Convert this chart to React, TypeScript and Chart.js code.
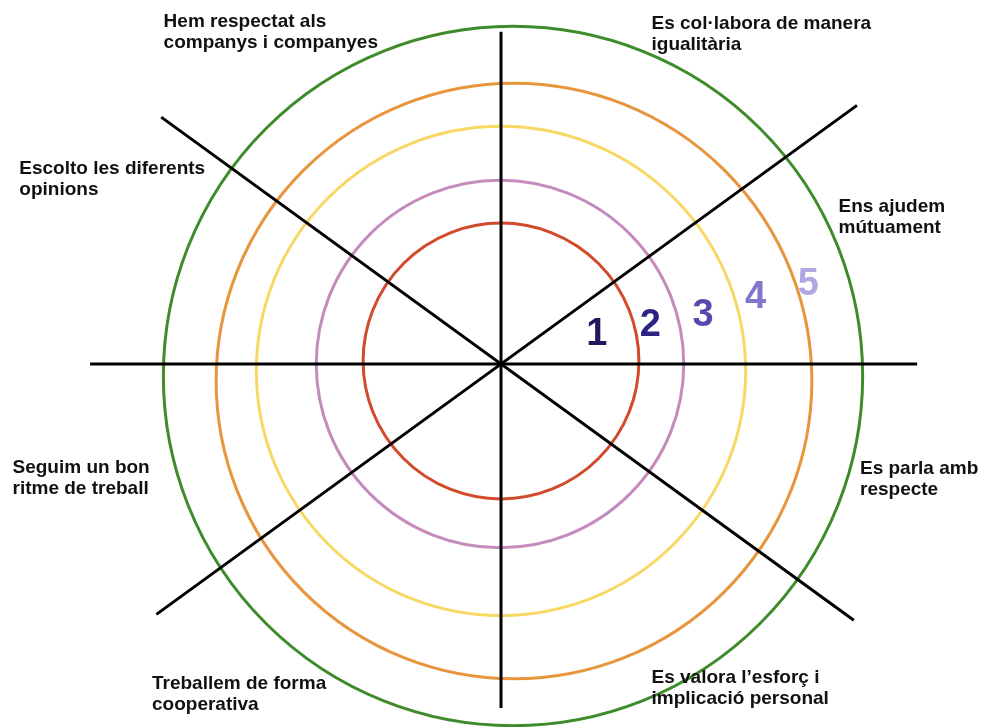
import React, { useEffect, useRef } from 'react';
import { Chart, registerables } from 'chart.js';

Chart.register(...registerables);

// ---------------- DATA ----------------
// Sector statements, clockwise starting from the top-right sector
const categories: string[][] = [
  ['Es col·labora de manera', 'igualitària'],
  ['Ens ajudem', 'mútuament'],
  ['Es parla amb', 'respecte'],
  ['Es valora l’esforç i', 'implicació personal'],
  ['Treballem de forma', 'cooperativa'],
  ['Seguim un bon', 'ritme de treball'],
  ['Escolto les diferents', 'opinions'],
  ['Hem respectat als', 'companys i companyes'],
];

// Level marks (tick labels of the rating rings)
const levelLabels = ['1', '2', '3', '4', '5'];

// Ring radii in scale units (0..100, outer ring ≈ 100)
const ringValues = [39.4, 52.5, 69.9, 85.1, 99.9];

// Angular slots of the radial scale (18° apart, clockwise from the top)
const angleSlots = Array.from({ length: 20 }, () => '');

// Spokes: each runs between two opposite slots, with its reach (scale units) at both ends
const spokeSlots = [
  [0, 10],
  [5, 15],
  [3, 13],
  [17, 7],
];
const spokeLengths = [
  [94.9, 98.3],
  [118.9, 117.4],
  [125.7, 121.7],
  [120.0, 124.6],
];

// ---------------- STYLE / LAYOUT ----------------
const W = 984;
const H = 800; // canvas height (viewport shows 727)
const AREA = 700; // chart-area height -> drawing radius 350px

const ringColors = ['#d24a2c', '#c58bbd', '#f8d864', '#e8953e', '#3e8b2c'];
const levelColors = ['#201a5c', '#2c2483', '#5747ae', '#8275cb', '#b0a7e2'];
// hand-drawn rings are not perfectly concentric: centre of each ring (px)
const ringCenters = [
  [501, 361],
  [500, 364],
  [501, 371],
  [514, 381],
  [513, 376],
];
const spokeCenter = [501, 364];

// text anchors relative to the spoke crossing (px): left x, first baseline
const labelOffsets = [
  [150.5, -334.7],
  [337.5, -152.3],
  [359, 110.3],
  [150.5, 319],
  [-349, 325],
  [-488.5, 109.3],
  [-481.7, -190],
  [-337.4, -336.7],
];
const LINE_H = 21;
// level marks: centre x, baseline (px from spoke crossing)
const levelOffsets = [
  [95.7, -19],
  [149.3, -28],
  [202, -38.3],
  [254.5, -55.7],
  [307.3, -69],
];

const FONT = '"Liberation Sans", Arial, Helvetica, sans-serif';

function paddingFor(cx: number, cy: number) {
  const top = cy - AREA / 2;
  return { left: 2 * cx - W, right: 0, top, bottom: H - AREA - top };
}

function baseOptions(cx: number, cy: number, grid: any, ticks: number[]) {
  return {
    responsive: false,
    animation: false as const,
    devicePixelRatio: 1,
    events: [] as any[],
    layout: { padding: paddingFor(cx, cy) },
    plugins: { legend: { display: false }, tooltip: { enabled: false } },
    scales: {
      r: {
        min: 0,
        max: 100,
        angleLines: { display: false },
        pointLabels: { display: false },
        ticks: { display: false },
        grid,
        afterBuildTicks: (scale: any) => {
          scale.ticks = ticks.map((v) => ({ value: v }));
        },
      },
    },
  };
}

function ringConfig(i: number): any {
  const [cx, cy] = ringCenters[i];
  return {
    type: 'radar',
    data: { labels: angleSlots, datasets: [] },
    options: baseOptions(
      cx,
      cy,
      { display: true, circular: true, color: ringColors[i], lineWidth: 3 },
      [0, ringValues[i]]
    ),
  };
}

const textPlugin = {
  id: 'sectorText',
  afterDraw(chart: any) {
    const s = chart.scales.r;
    const ctx = chart.ctx as CanvasRenderingContext2D;
    ctx.save();
    ctx.fillStyle = '#111111';
    ctx.textAlign = 'left';
    ctx.textBaseline = 'alphabetic';
    ctx.font = `bold 19px ${FONT}`;
    categories.forEach((lines, i) => {
      const [dx, dy] = labelOffsets[i];
      lines.forEach((ln, j) => {
        ctx.fillText(ln, s.xCenter + dx, s.yCenter + dy + j * LINE_H);
      });
    });
    ctx.font = `bold 38px ${FONT}`;
    ctx.textAlign = 'center';
    levelLabels.forEach((lbl, i) => {
      const [dx, dy] = levelOffsets[i];
      ctx.fillStyle = levelColors[i];
      ctx.fillText(lbl, s.xCenter + dx, s.yCenter + dy);
    });
    ctx.restore();
  },
};

function spokeConfig(): any {
  const [cx, cy] = spokeCenter;
  const datasets = spokeSlots.map((pair, i) => {
    const data: (number | null)[] = angleSlots.map(() => null);
    data[pair[0]] = spokeLengths[i][0];
    data[pair[1]] = spokeLengths[i][1];
    return {
      data,
      borderColor: '#000000',
      borderWidth: 3,
      borderJoinStyle: 'bevel',
      pointRadius: 0,
      pointHoverRadius: 0,
      fill: false,
      spanGaps: true,
      clip: false,
    };
  });
  return {
    type: 'radar',
    data: { labels: angleSlots, datasets },
    options: baseOptions(cx, cy, { display: false }, [0]),
    plugins: [textPlugin],
  };
}

export default function App() {
  const refs = useRef<(HTMLCanvasElement | null)[]>([]);

  useEffect(() => {
    const charts: Chart[] = [];
    ringValues.forEach((_, i) => {
      const c = refs.current[i];
      if (c) charts.push(new Chart(c, ringConfig(i)));
    });
    const top = refs.current[ringValues.length];
    if (top) charts.push(new Chart(top, spokeConfig()));
    return () => charts.forEach((c) => c.destroy());
  }, []);

  const layers = [...ringValues.map((_, i) => i), ringValues.length];

  return (
    <div
      style={{
        position: 'fixed',
        left: 0,
        top: 0,
        width: W,
        height: 727,
        overflow: 'hidden',
        background: '#ffffff',
      }}
    >
      {layers.map((i) => (
        <canvas
          key={i}
          ref={(el) => {
            refs.current[i] = el;
          }}
          width={W}
          height={H}
          style={{ position: 'absolute', left: 0, top: 0, width: W, height: H }}
        />
      ))}
    </div>
  );
}
